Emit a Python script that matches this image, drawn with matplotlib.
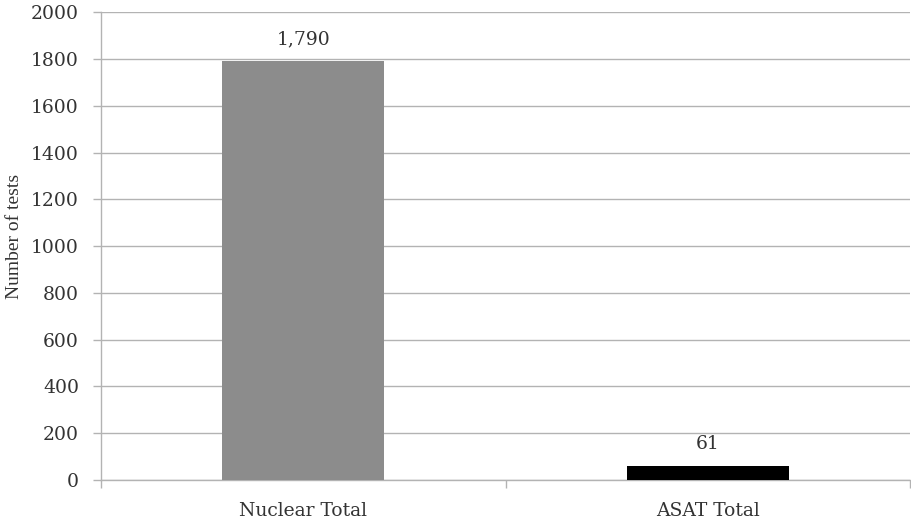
import matplotlib
matplotlib.use("Agg")
import matplotlib.pyplot as plt

categories = ["Nuclear Total", "ASAT Total"]
values = [1790, 61]
bar_colors = ["#8c8c8c", "#000000"]
value_labels = ["1,790", "61"]
yticks = list(range(0, 2001, 200))

plt.rcParams["font.family"] = ["DejaVu Serif"]
text_color = "#333333"
grid_color = "#b3b3b3"
fs = 13.5

fig = plt.figure(figsize=(9.11, 5.25), dpi=100)
ax = fig.add_axes([0.111, 0.0857, 0.888, 0.891])

x = list(range(len(categories)))
ax.bar(x, values, width=0.4, color=bar_colors, zorder=3)
for xi, v, lab in zip(x, values, value_labels):
    ax.text(xi, v + 55, lab, ha="center", va="bottom", fontsize=fs, color=text_color)

ax.set_xlim(-0.5, len(categories) - 0.5)
ax.set_ylim(0, 2000)
ax.set_yticks(yticks)
ax.set_yticklabels([str(t) for t in yticks], fontsize=fs, color=text_color)
ax.yaxis.grid(True, color=grid_color, linewidth=1.0, zorder=0)
ax.set_axisbelow(True)

# category labels centred on bars, tick marks between categories
ax.set_xticks(x)
ax.set_xticklabels(categories, fontsize=fs, color=text_color)
ax.tick_params(axis="x", length=0, pad=16)
ax.set_xticks([-0.5, 0.5, 1.5], minor=True)
ax.tick_params(axis="x", which="minor", length=6, color=grid_color, width=1)
ax.tick_params(axis="y", length=6, color=grid_color, width=1, pad=10)

for side in ["top", "right"]:
    ax.spines[side].set_visible(False)
for side in ["left", "bottom"]:
    ax.spines[side].set_color(grid_color)
    ax.spines[side].set_linewidth(1.0)

ax.set_ylabel("Number of tests", fontsize=14, color=text_color,
              family=["Liberation Serif", "DejaVu Serif"])
ax.yaxis.set_label_coords(-0.096, 0.52)

fig.savefig("out.png", dpi=100)
